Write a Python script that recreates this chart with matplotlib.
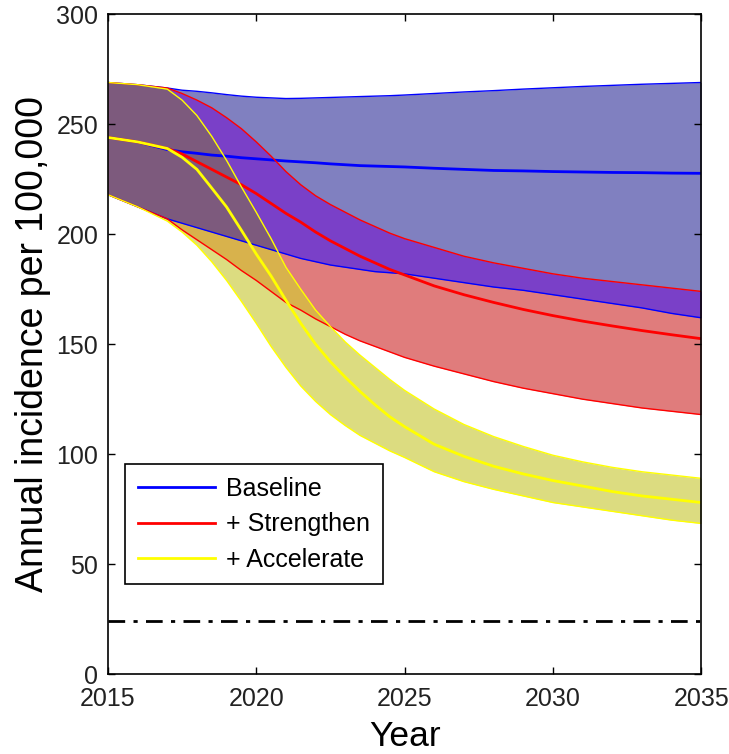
import numpy as np
import matplotlib
matplotlib.use('Agg')
import matplotlib.pyplot as plt

plt.rcParams['font.family'] = ['Liberation Sans', 'DejaVu Sans']

# Values (annual incidence per 100,000).
# Half-year steps 2017-2025 where the curves bend, whole years elsewhere.
years = [2015, 2016, 2017, 2017.5, 2018, 2018.5, 2019, 2019.5, 2020, 2020.5,
         2021, 2021.5, 2022, 2022.5, 2023, 2023.5, 2024, 2024.5, 2025,
         2026, 2027, 2028, 2029, 2030, 2031, 2032, 2033, 2034, 2035]

base_mid = [244, 242, 238.5, 237.5, 236.8, 236, 235.5, 234.8, 234.3, 233.8,
            233.3, 232.9, 232.5, 232, 231.6, 231.2, 231, 230.8, 230.6,
            230, 229.5, 229, 228.8, 228.5, 228.3, 228.1, 228, 227.8, 227.7]
base_lo = [218, 212.5, 207, 205, 203, 201, 199, 197, 195, 193,
           191, 189, 187.5, 186, 185, 184, 183, 182.5, 182,
           180, 178, 176, 174.5, 172.5, 170.5, 168.5, 166.5, 164, 162]
base_hi = [269, 268, 266.5, 265.5, 265, 264.3, 263.5, 262.8, 262.3, 262,
           261.7, 261.8, 262, 262.2, 262.4, 262.6, 262.8, 263, 263.3,
           264, 264.7, 265.3, 266, 266.6, 267.2, 267.7, 268.2, 268.6, 269]

str_mid = [244, 242, 239, 236.5, 233, 229.5, 226, 222.5, 218.5, 214,
           209.5, 205.5, 201, 197, 193.5, 190, 187, 184, 181.5,
           176.5, 172.5, 169, 165.8, 163, 160.5, 158.3, 156.2, 154.3, 152.5]
str_lo = [218, 212.5, 207, 202, 197.5, 193, 188.5, 183.5, 179, 174,
          169, 165.5, 161.5, 158, 154.5, 151.5, 149, 146.5, 144,
          140, 136.5, 133, 130, 127.5, 125, 123, 121, 119.5, 118]
str_hi = [269, 268, 266.5, 264, 261, 257.5, 253, 248, 242, 235.5,
          228.5, 222.5, 217.5, 213.5, 210, 206.5, 203.5, 200.5, 198,
          194, 190, 187, 184.5, 182, 180, 178.5, 177, 175.5, 174]

acc_mid = [244, 242, 239, 235, 229.5, 221, 212.4, 201.8, 191, 181,
           170, 159.5, 150, 142, 135, 128.5, 122.5, 117, 112.5,
           104.5, 99, 94.5, 91, 88, 85.5, 83, 81, 79.5, 78]
acc_lo = [218, 212.5, 206, 201, 195, 187.5, 179, 169.5, 159.5, 149,
          139.5, 131, 124, 118, 113, 108.5, 105, 101.5, 98.5,
          92, 87.5, 84, 81, 78, 76, 74, 72, 70, 68.5]
acc_hi = [269, 268, 266, 261, 254, 244.5, 233.6, 221.5, 210, 198,
          185, 175, 165.5, 158, 151, 145, 139.5, 134, 129,
          120.5, 113.5, 108, 103.5, 99.5, 96.5, 94, 92, 90.5, 89]

target = 24

labels = ['Baseline', '+ Strengthen', '+ Accelerate']

BLUE, RED, YELLOW = '#0000ff', '#ff0000', '#ffff00'
fill_colors = {'b': '#8080c0', 'r': '#e07c7c', 'y': '#dcdc80',
               'rb': '#7a40c8', 'yr': '#d8b24c', 'yrb': '#7d5a7d'}


def overlap(*bands):
    lo = np.max([np.asarray(b[0], float) for b in bands], axis=0)
    hi = np.min([np.asarray(b[1], float) for b in bands], axis=0)
    return lo, hi


fig = plt.figure(figsize=(7.29, 7.54), dpi=100)
ax = fig.add_axes([0.148, 0.106, 0.814, 0.875])

B = (base_lo, base_hi)
R = (str_lo, str_hi)
Y = (acc_lo, acc_hi)

# single bands
ax.fill_between(years, base_lo, base_hi, color=fill_colors['b'], lw=0)
ax.fill_between(years, str_lo, str_hi, color=fill_colors['r'], lw=0)
ax.fill_between(years, acc_lo, acc_hi, color=fill_colors['y'], lw=0)

# overlaps
for key, bands in [('rb', (R, B)), ('yr', (Y, R)), ('yrb', (Y, R, B))]:
    lo, hi = overlap(*bands)
    ax.fill_between(years, lo, hi, where=hi >= lo, interpolate=True,
                    color=fill_colors[key], lw=0)

# band edges and central lines
for lo, hi, mid, c, lab in [(base_lo, base_hi, base_mid, BLUE, labels[0]),
                            (str_lo, str_hi, str_mid, RED, labels[1]),
                            (acc_lo, acc_hi, acc_mid, YELLOW, labels[2])]:
    ax.plot(years, lo, color=c, lw=1)
    ax.plot(years, hi, color=c, lw=1)
    ax.plot(years, mid, color=c, lw=2, label=lab)

ax.axhline(target, color='black', lw=2, linestyle=(0, (6, 3, 1.5, 3)))

ax.set_xlim(2015, 2035)
ax.set_ylim(0, 300)
ax.set_xticks(np.arange(2015, 2036, 5))
ax.set_yticks(np.arange(0, 301, 50))
ax.tick_params(direction='in', top=True, right=True, length=5, width=1,
               labelsize=18, colors='black', labelcolor='#222222')
ax.tick_params(axis='x', pad=9)
ax.tick_params(axis='y', pad=7)
for s in ax.spines.values():
    s.set_linewidth(1.2)

ax.set_xlabel('Year', fontsize=25.5, labelpad=7)
ax.set_ylabel('Annual incidence per 100,000', fontsize=27, labelpad=4)

leg = ax.legend(loc='lower left', bbox_to_anchor=(0.029, 0.136), fontsize=18,
                handlelength=3.1, handletextpad=0.45, labelspacing=0.46,
                borderpad=0.5, borderaxespad=0,
                fancybox=False, framealpha=1, edgecolor='black')
leg.get_frame().set_linewidth(1.2)

fig.savefig('out.png', dpi=100)
